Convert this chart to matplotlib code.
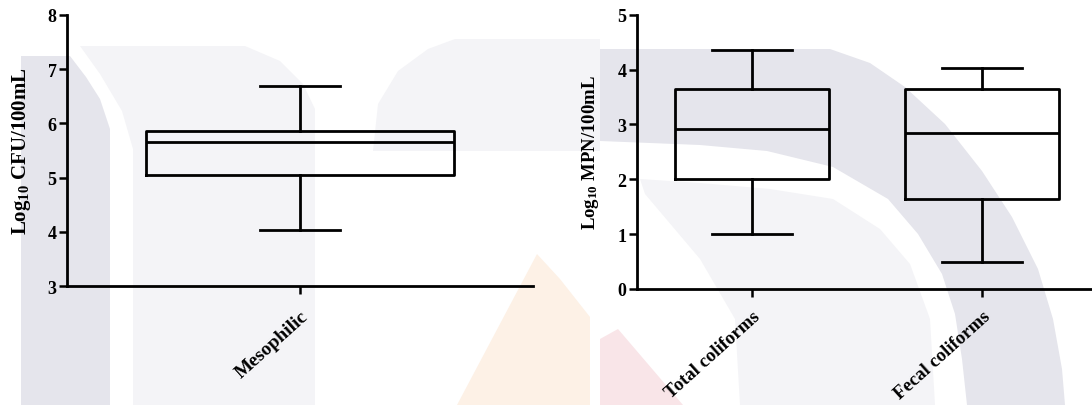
import matplotlib
matplotlib.use("Agg")
import matplotlib.pyplot as plt
from matplotlib.patches import Polygon

# ---------------- data ----------------
left_categories = ["Mesophilic"]
left_whislo = [4.03]
left_q1 = [5.04]
left_med = [5.65]
left_q3 = [5.86]
left_whishi = [6.68]
left_yticks = [3, 4, 5, 6, 7, 8]

right_categories = ["Total coliforms", "Fecal coliforms"]
right_whislo = [1.00, 0.50]
right_q1 = [2.01, 1.64]
right_med = [2.91, 2.84]
right_q3 = [3.65, 3.65]
right_whishi = [4.36, 4.02]
right_yticks = [0, 1, 2, 3, 4, 5]

left_ylabel = r"Log$_{10}$ CFU/100mL"
right_ylabel = r"Log$_{10}$ MPN/100mL"

# ---------------- style ----------------
plt.rcParams["font.family"] = ["Liberation Serif", "DejaVu Serif"]
plt.rcParams["font.weight"] = "bold"
plt.rcParams["mathtext.fontset"] = "custom"
plt.rcParams["mathtext.rm"] = "Liberation Serif:bold"
plt.rcParams["mathtext.it"] = "Liberation Serif:bold:italic"
plt.rcParams["mathtext.bf"] = "Liberation Serif:bold"

W, H = 1092, 406
fig = plt.figure(figsize=(W / 100, H / 100), dpi=100)
fig.patch.set_facecolor("white")

# faint watermark background (decoration, pixel coordinates)
bg = fig.add_axes([0, 0, 1, 1], zorder=-10)
bg.set_xlim(0, W)
bg.set_ylim(H, 0)
bg.axis("off")
GRAY = "#e5e5ec"
LIGHT = "#f4f4f7"
ORANGE = "#fdf1e6"
PINK = "#f9e5e8"
shapes = [
    ([(80, 47), (245, 47), (280, 62), (303, 85), (315, 110), (315, 406),
      (133, 406), (133, 150), (122, 112), (100, 75)], LIGHT),
    ([(21, 57), (70, 57), (86, 78), (100, 100), (110, 130), (110, 406), (21, 406)], GRAY),
    ([(373, 152), (378, 105), (398, 72), (428, 50), (455, 40), (600, 40),
      (600, 152)], LIGHT),
    ([(640, 180), (700, 184), (770, 190), (833, 200), (880, 230), (910, 265),
      (930, 320), (935, 406), (740, 406), (735, 320), (700, 260), (645, 195)], LIGHT),
    ([(600, 50), (830, 50), (870, 64), (905, 88), (945, 125), (982, 172),
      (1012, 218), (1038, 270), (1053, 320), (1062, 370), (1065, 406),
      (967, 406), (962, 360), (955, 315), (942, 275), (918, 235), (888, 200),
      (833, 168), (767, 152), (700, 146), (600, 142)], GRAY),
    ([(537, 255), (560, 280), (590, 318), (590, 406), (457, 406)], ORANGE),
    ([(600, 340), (618, 330), (683, 406), (600, 406)], PINK),
]
for pts, col in shapes:
    bg.add_patch(Polygon(pts, closed=True, fc=col, ec="none"))

LW = 2.0
line_kw = dict(color="black", linewidth=LW)


def make_stats(cats, lo, q1, med, q3, hi):
    return [dict(label=c, whislo=a, q1=b, med=m, q3=d, whishi=e, fliers=[])
            for c, a, b, m, d, e in zip(cats, lo, q1, med, q3, hi)]


def style_axes(ax, ylabel, ysize, label_x, xsize, xpad):
    ax.set_facecolor("none")
    for s in ("top", "right"):
        ax.spines[s].set_visible(False)
    for s in ("left", "bottom"):
        ax.spines[s].set_linewidth(LW)
    ax.tick_params(axis="y", length=5.5, width=1.8, labelsize=13, pad=2)
    ax.tick_params(axis="x", length=6, width=1.8, labelsize=xsize, pad=xpad)
    for lab in ax.get_xticklabels():
        lab.set_rotation(42)
        lab.set_ha("right")
        lab.set_va("top")
        lab.set_rotation_mode("anchor")
    ax.set_ylabel(ylabel, fontsize=ysize, fontweight="bold")
    ax.yaxis.set_label_coords(label_x, 0.5)


# ---------------- left panel ----------------
axL = fig.add_axes([67 / W, 1 - 287.3 / H, 466 / W, (287.3 - 15.7) / H])
axL.bxp(make_stats(left_categories, left_whislo, left_q1, left_med, left_q3, left_whishi),
        positions=[1], widths=0.663, capwidths=0.17, showfliers=False,
        boxprops=line_kw, whiskerprops=line_kw, capprops=line_kw, medianprops=line_kw)
axL.set_xlim(0.5, 1.5)
axL.set_ylim(left_yticks[0], left_yticks[-1])
axL.set_yticks(left_yticks)
axL.set_xticks([1], left_categories)
style_axes(axL, left_ylabel, 15, -0.074, 14, 9)

# ---------------- right panel ----------------
axR = fig.add_axes([636.7 / W, 1 - 290 / H, (W - 636.7) / W, (290 - 15.7) / H])
axR.bxp(make_stats(right_categories, right_whislo, right_q1, right_med, right_q3, right_whishi),
        positions=[1, 2], widths=0.669, capwidths=0.347, showfliers=False,
        boxprops=line_kw, whiskerprops=line_kw, capprops=line_kw, medianprops=line_kw)
axR.set_xlim(0.5, 2.477)
axR.set_ylim(right_yticks[0], right_yticks[-1])
axR.set_yticks(right_yticks)
axR.set_xticks([1, 2], right_categories)
style_axes(axR, right_ylabel, 13.5, -0.078, 13.5, 7.5)

fig.savefig("out.png", dpi=100, facecolor="white")
